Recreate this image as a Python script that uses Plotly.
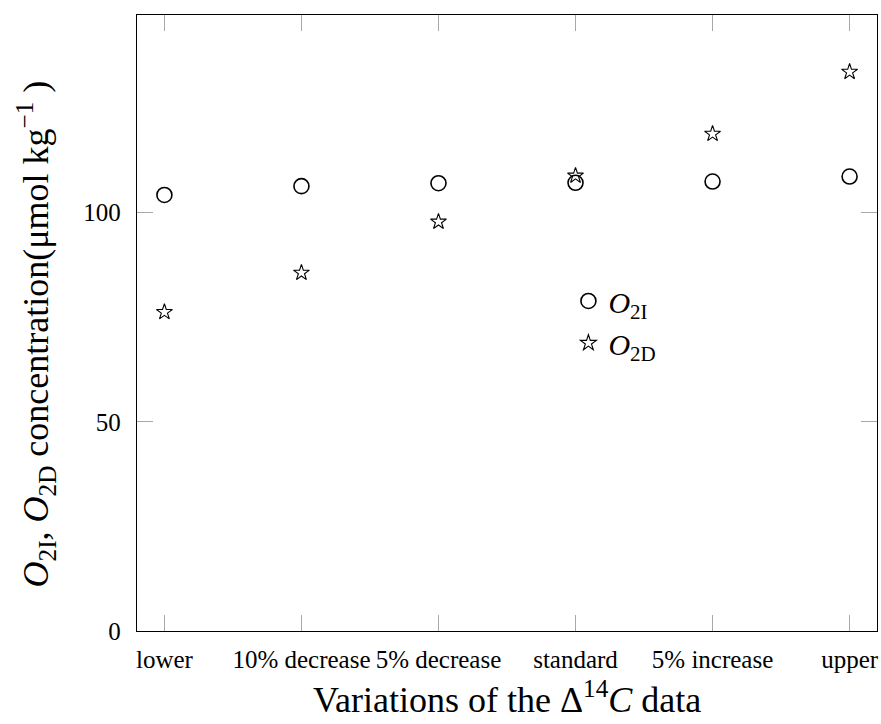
import plotly.graph_objects as go

categories = ["lower", "10% decrease", "5% decrease", "standard", "5% increase", "upper"]
o2i_values = [104.2, 106.3, 107.0, 107.1, 107.4, 108.6]
o2d_values = [76.2, 85.6, 97.8, 108.8, 118.8, 133.6]
y_tick_values = [0, 50, 100]
y_tick_labels = ["0", "50", "100"]

FONT = "Liberation Serif"

fig = go.Figure()
fig.add_trace(go.Scatter(
    x=categories, y=o2i_values, mode="markers",
    name="<i>O</i><sub>2I</sub>", legendgroup="a",
    marker=dict(symbol="circle-open", size=15, color="black", line=dict(width=1.6, color="black")),
))
fig.add_trace(go.Scatter(
    x=categories, y=o2d_values, mode="markers",
    name="<i>O</i><sub>2D</sub>", legendgroup="b",
    marker=dict(symbol="star-open", size=12, color="black", line=dict(width=1.1, color="black")),
))

fig.update_layout(
    width=881, height=724,
    margin=dict(l=137, r=4, t=15, b=93, autoexpand=False),
    plot_bgcolor="white", paper_bgcolor="white",
    font=dict(family=FONT, color="black", size=24),
    showlegend=True,
    legend=dict(
        x=0.583, y=0.578, xanchor="left", yanchor="top",
        bgcolor="rgba(0,0,0,0)", borderwidth=0,
        font=dict(family=FONT, size=30, color="black"),
        tracegroupgap=0,
    ),
    annotations=[
        dict(text="Variations of the Δ<sup>14</sup><i>C</i> data",
             xref="paper", yref="paper", x=0.5, y=-0.148,
             xanchor="center", yanchor="bottom", showarrow=False,
             font=dict(family=FONT, size=36, color="black")),
        dict(text="<i>O</i><sub>2I</sub>, <i>O</i><sub>2D</sub> concentration(μmol kg<sup>−1</sup> )",
             xref="paper", yref="paper", x=-0.136, y=0.482, textangle=-90,
             xanchor="center", yanchor="middle", showarrow=False,
             font=dict(family=FONT, size=36, color="black")),
    ],
)
fig.update_xaxes(
    type="category", categoryorder="array", categoryarray=categories,
    range=[-0.2, 5.2], automargin=False, tickangle=0,
    showline=True, linecolor="black", linewidth=1.3, mirror="allticks",
    ticks="inside", ticklen=16, tickcolor="#a8a8a8", tickwidth=1,
    showgrid=False, zeroline=False,
    tickfont=dict(family=FONT, size=25, color="black"),
    ticklabelstandoff=6,
)
fig.update_yaxes(
    range=[0, 147.2], automargin=False,
    tickvals=y_tick_values, ticktext=y_tick_labels,
    showline=True, linecolor="black", linewidth=1.3, mirror="allticks",
    ticks="inside", ticklen=16, tickcolor="#a8a8a8", tickwidth=1,
    showgrid=False, zeroline=False,
    tickfont=dict(family=FONT, size=25, color="black"),
    ticklabelstandoff=10,
)

fig.write_html("out.html", config={"displayModeBar": False},
               post_script="document.body.style.margin='0';")
